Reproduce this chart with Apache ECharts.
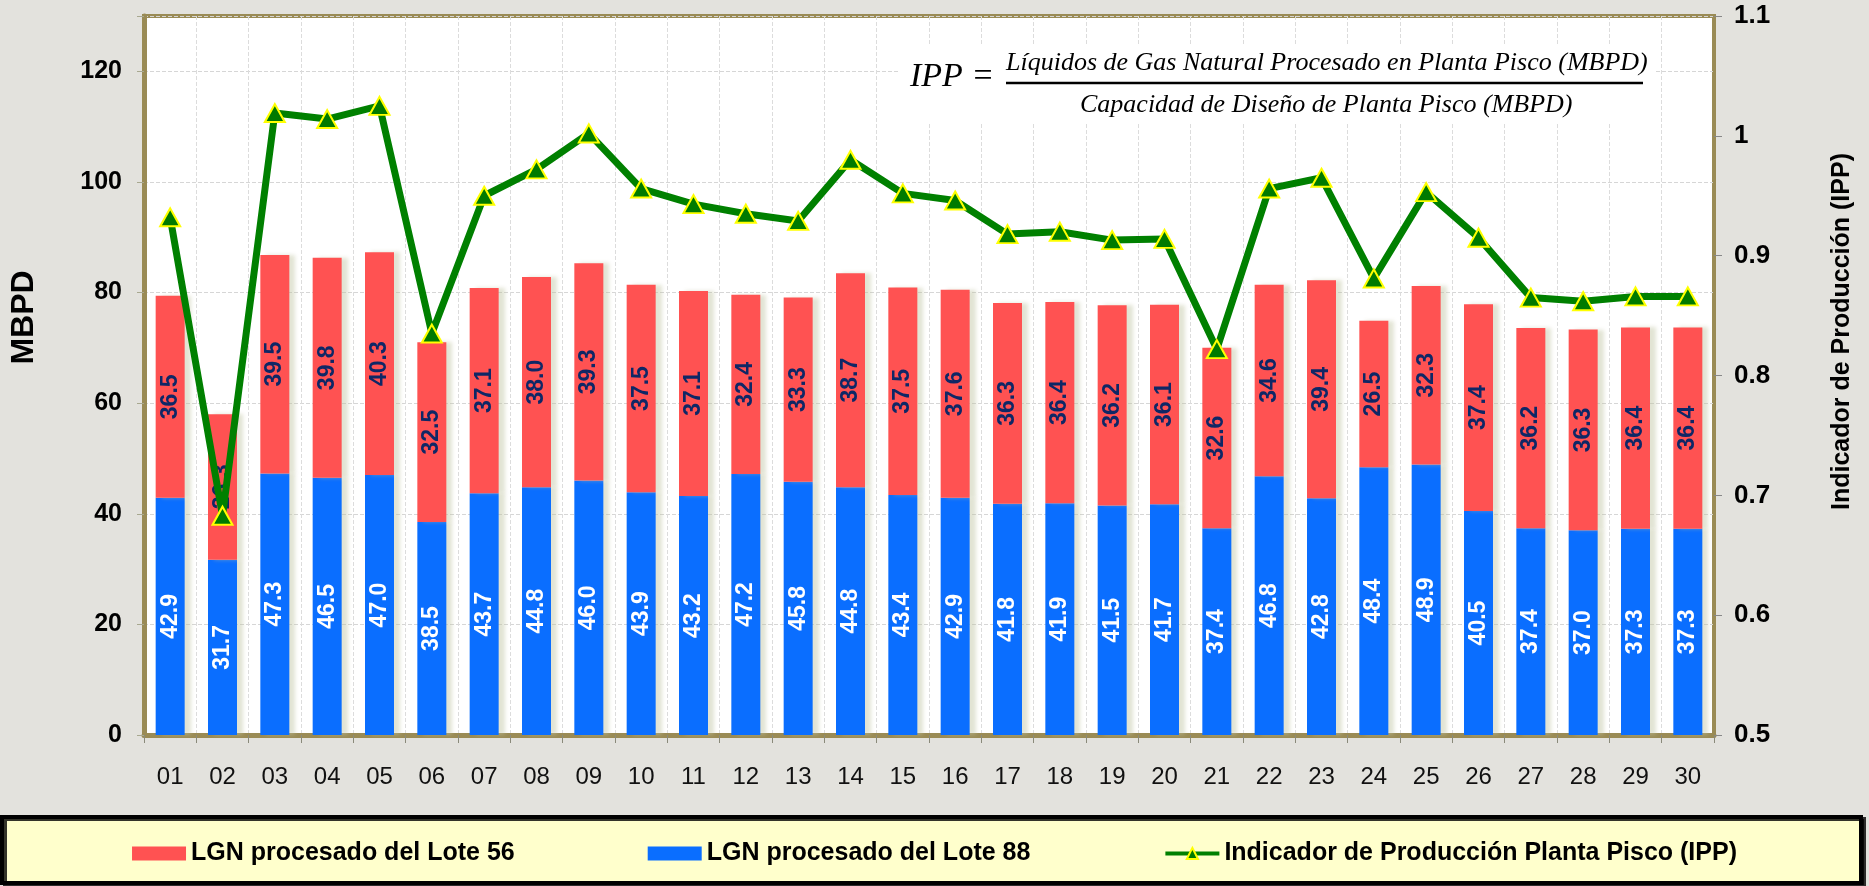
<!DOCTYPE html>
<html>
<head>
<meta charset="utf-8">
<style>
    html, body { margin: 0; padding: 0; background: #E3E2DD; }
    #chart { width: 1869px; height: 886px; }
</style>
<script src="https://cdn.jsdelivr.net/npm/echarts@6.0.0/dist/echarts.min.js"></script>
</head>
<body>
<div id="chart"></div>
<script>
const days = ['01','02','03','04','05','06','07','08','09','10','11','12','13','14','15',
    '16','17','18','19','20','21','22','23','24','25','26','27','28','29','30'];

// LGN procesado del Lote 88 (azul, abajo)
const lote88 = [42.9, 31.7, 47.3, 46.5, 47.0, 38.5, 43.7, 44.8, 46.0, 43.9, 43.2, 47.2, 45.8, 44.8, 43.4,
    42.9, 41.8, 41.9, 41.5, 41.7, 37.4, 46.8, 42.8, 48.4, 48.9, 40.5, 37.4, 37.0, 37.3, 37.3];

// LGN procesado del Lote 56 (rojo, arriba)
const lote56 = [36.5, 26.3, 39.5, 39.8, 40.3, 32.5, 37.1, 38.0, 39.3, 37.5, 37.1, 32.4, 33.3, 38.7, 37.5,
    37.6, 36.3, 36.4, 36.2, 36.1, 32.6, 34.6, 39.4, 26.5, 32.3, 37.4, 36.2, 36.3, 36.4, 36.4];

// Indicador de Produccion Planta Pisco
const ipp = [0.932, 0.683, 1.019, 1.014, 1.025, 0.835, 0.950, 0.972, 1.002, 0.956, 0.943, 0.935, 0.929, 0.980, 0.952,
    0.946, 0.918, 0.920, 0.913, 0.914, 0.822, 0.956, 0.965, 0.881, 0.953, 0.915, 0.865, 0.862, 0.866, 0.866];

const legendNames = ['LGN procesado del Lote 56', 'LGN procesado del Lote 88', 'Indicador de Producción Planta Pisco (IPP)'];

const olive = '#9A8B55';
const font = 'Liberation Sans, Arial, sans-serif';

let myChart = echarts.init(document.getElementById('chart'));

const option = {
    backgroundColor: '#E3E2DD',
    textStyle: { fontFamily: font },
    animation: false,
    grid: {
        left: 143, right: 155, top: 16, bottom: 151,
        show: true,
        backgroundColor: '#ffffff',
        borderColor: olive,
        borderWidth: 4
    },
    legend: {
        data: [
            { name: legendNames[0], icon: 'rect' },
            { name: legendNames[1], icon: 'rect' },
            { name: legendNames[2] }
        ],
        left: 'center',
        top: 836,
        itemWidth: 54,
        itemHeight: 14,
        itemGap: 133,
        lineStyle: { width: 4 },
        textStyle: { fontSize: 25, fontWeight: 'bold', color: '#000', fontFamily: font }
    },
    xAxis: {
        type: 'category',
        data: days,
        axisLine: { lineStyle: { color: olive, width: 5 } },
        axisTick: { show: true, interval: 0, length: 8, lineStyle: { color: '#8a8a7a', width: 1 } },
        axisLabel: { fontSize: 24, color: '#111', margin: 30, interval: 0 },
        splitLine: { show: true, interval: 0, lineStyle: { color: '#dcdcdc', type: 'dashed', width: 1 } }
    },
    yAxis: [
        {
            type: 'value',
            min: 0, max: 130, interval: 20,
            name: 'MBPD',
            nameLocation: 'middle',
            nameGap: 104,
            nameTextStyle: { fontSize: 32, fontWeight: 'bold', color: '#000', padding: [0, 0, 0, 116] },
            axisLine: { show: true, lineStyle: { color: olive, width: 5 } },
            axisTick: { show: true, length: 7, lineStyle: { color: '#a8a890' } },
            axisLabel: {
                fontSize: 25, fontWeight: 'bold', color: '#000', margin: 22,
                formatter: v => (v > 120 ? '' : v)
            },
            splitLine: { show: true, lineStyle: { color: '#d6d6d6', type: 'dashed', width: 1 } }
        },
        {
            type: 'value',
            min: 0.5, max: 1.1, interval: 0.1,
            name: 'Indicador de Producción (IPP)',
            nameLocation: 'middle',
            nameGap: 116,
            nameTextStyle: { fontSize: 25, fontWeight: 'bold', color: '#000', padding: [0, 0, 0, 88] },
            axisLine: { show: true, lineStyle: { color: olive, width: 3 } },
            axisTick: { show: true, length: 8, lineStyle: { color: '#888' } },
            axisLabel: { fontSize: 26, fontWeight: 'bold', color: '#000', margin: 20 },
            splitLine: { show: false }
        }
    ],
    series: [
        {
            name: 'LGN procesado del Lote 88',
            type: 'bar',
            stack: 'lgn',
            data: lote88,
            barWidth: 29,
            itemStyle: {
                color: '#0A6EFF',
                shadowColor: 'rgba(190,195,160,0.45)', shadowOffsetX: 6, shadowBlur: 4
            },
            label: {
                show: true, position: 'inside', rotate: 90,
                formatter: p => p.value.toFixed(1),
                fontSize: 23, fontWeight: 'bold', color: '#ffffff'
            }
        },
        {
            name: 'LGN procesado del Lote 56',
            type: 'bar',
            stack: 'lgn',
            data: lote56,
            barWidth: 29,
            itemStyle: {
                color: '#FF5252',
                shadowColor: 'rgba(190,195,160,0.45)', shadowOffsetX: 6, shadowBlur: 4
            },
            label: {
                show: true, position: 'inside', rotate: 90,
                formatter: p => p.value.toFixed(1),
                fontSize: 23, fontWeight: 'bold', color: '#0E2766'
            }
        },
        {
            name: 'Indicador de Producción Planta Pisco (IPP)',
            type: 'line',
            yAxisIndex: 1,
            data: ipp,
            symbol: 'triangle',
            symbolSize: [20, 18],
            lineStyle: { color: '#008000', width: 7 },
            itemStyle: { color: '#007A00', borderColor: '#FFFF00', borderWidth: 2 }
        }
    ],
    graphic: [
        {
            type: 'rect', z: 0, silent: true,
            shape: { x: 2, y: 817, width: 1859, height: 66 },
            style: { fill: '#FFFFCC', stroke: '#000', lineWidth: 4, shadowColor: 'rgba(0,0,0,0.8)', shadowOffsetX: 3, shadowOffsetY: 2 }
        },
        {
            type: 'rect', z: 3, silent: true,
            shape: { x: 900, y: 44, width: 756, height: 78 },
            style: { fill: '#ffffff' }
        },
        {
            type: 'text', z: 4, left: 910, top: 60,
            style: { text: 'IPP =', font: 'italic 34px Liberation Serif, serif', fill: '#000' }
        },
        {
            type: 'text', z: 4, left: 1006, top: 50,
            style: { text: 'Líquidos de Gas Natural Procesado en Planta Pisco (MBPD)', font: 'italic 26px Liberation Serif, serif', fill: '#000' }
        },
        {
            type: 'line', z: 4,
            shape: { x1: 1006, y1: 83, x2: 1643, y2: 83 },
            style: { stroke: '#000', lineWidth: 2.5 }
        },
        {
            type: 'text', z: 4, left: 1080, top: 92,
            style: { text: 'Capacidad de Diseño de Planta Pisco (MBPD)', font: 'italic 26px Liberation Serif, serif', fill: '#000' }
        }
    ]
};

myChart.setOption(option);
</script>
</body>
</html>
